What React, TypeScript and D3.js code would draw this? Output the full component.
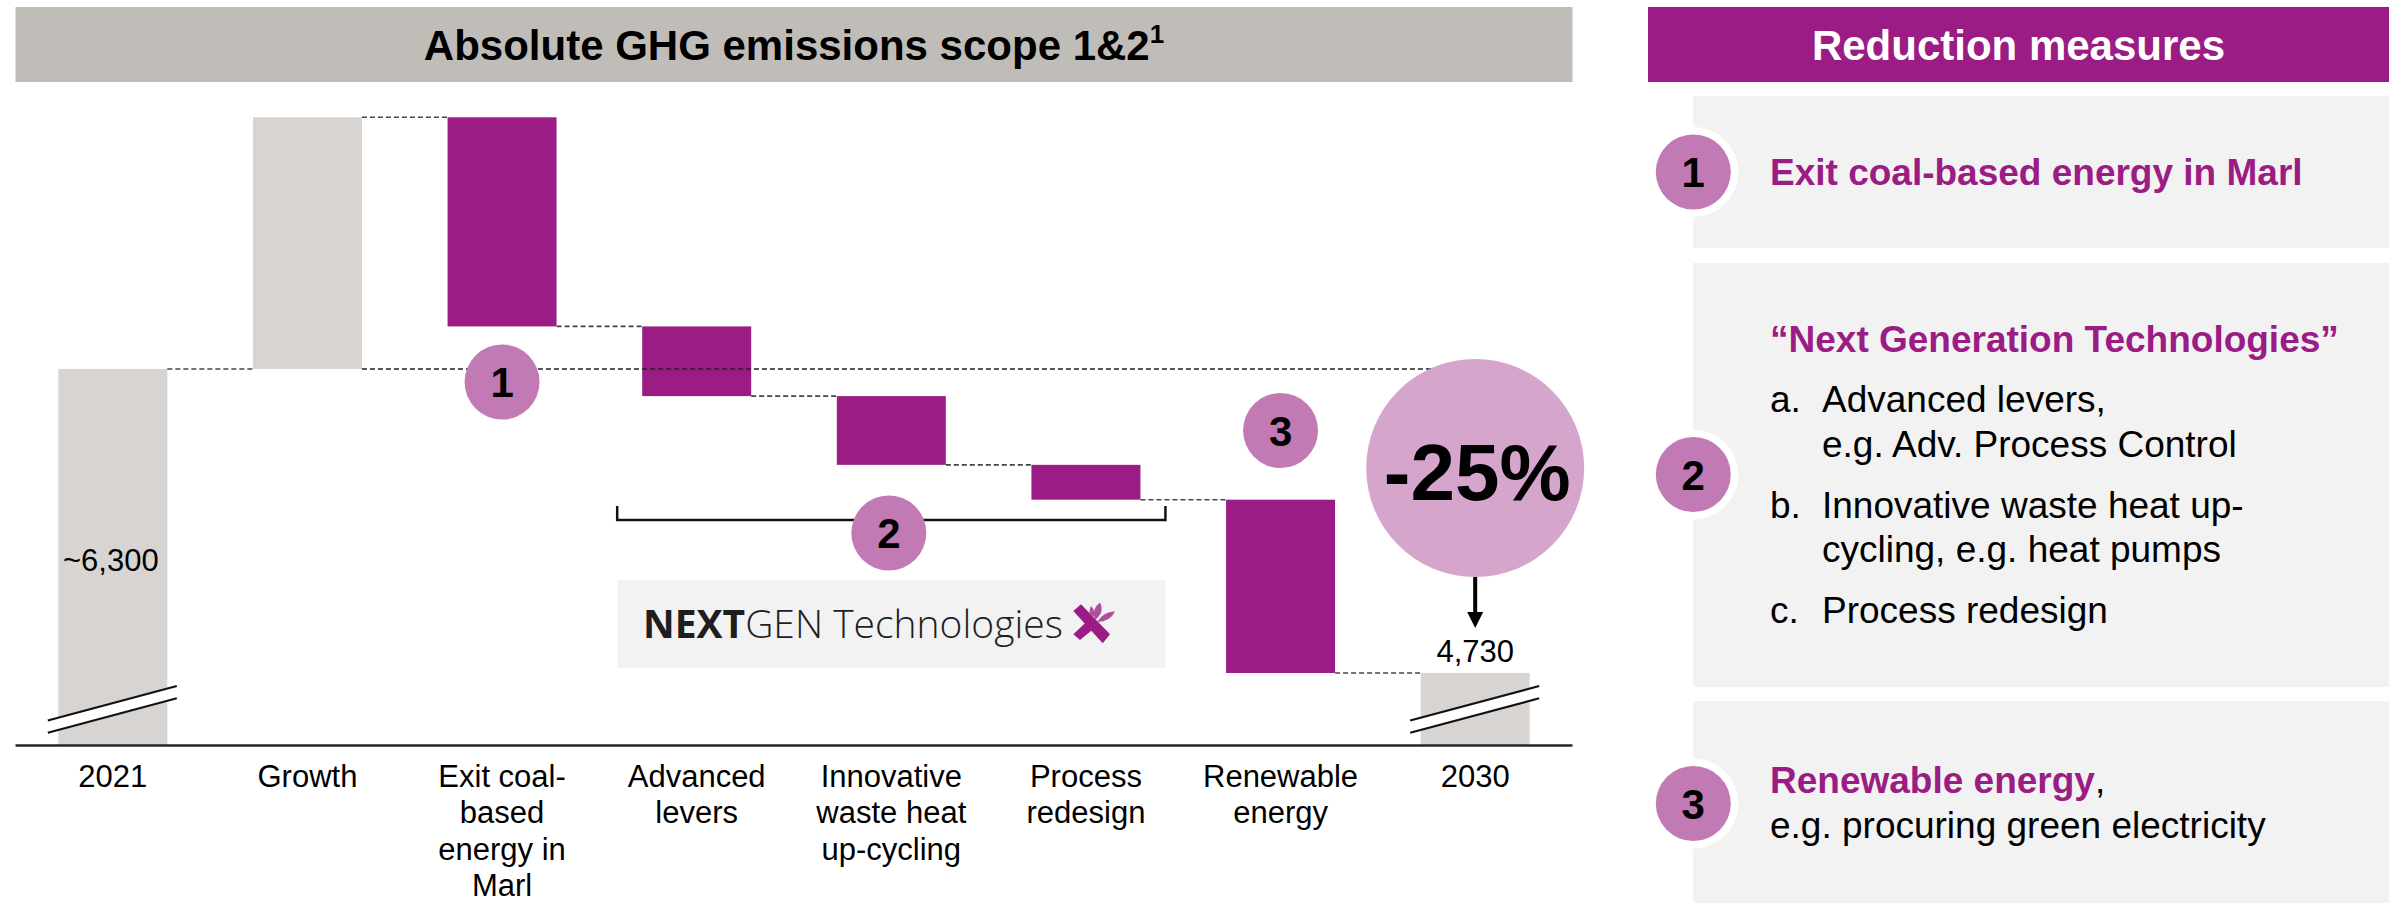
import React from "react";
import * as d3 from "d3";

// ---------- data ----------
const categories = ["2021", "Growth", "Exit coal", "Advanced levers", "Innovative", "Process redesign", "Renewable energy", "2030"];
const categoryLines = [
  ["2021"],
  ["Growth"],
  ["Exit coal-", "based", "energy in", "Marl"],
  ["Advanced", "levers"],
  ["Innovative", "waste heat", "up-cycling"],
  ["Process", "redesign"],
  ["Renewable", "energy"],
  ["2030"],
];
const values = [6300, 1300, -1080, -360, -355, -180, -895, 4730];
const kinds = ["total", "increase", "decrease", "decrease", "decrease", "decrease", "decrease", "total"];
const totalLabels = ["~6,300", "", "", "", "", "", "", "4,730"];
const yBreakBase = 4358; // axis is broken: baseline value shown at the axis
const reductionLabel = "-25%";
const annotationNumbers = [
  { n: "1", cat: "Exit coal" },
  { n: "2", cat: "Innovative" },
  { n: "3", cat: "Renewable energy" },
];

const FONT = "'Liberation Sans', Arial, Helvetica, sans-serif";
const PURPLE = "#9b1c84";
const LEAF = "#b04c9c";
const GRAY_BAR = "#d8d4d1";
const CIRCLE = "#c27ab5";
const BIG_CIRCLE = "#d5a5cc";
const BOX = "#f2f2f2";

export default function App() {
  const x = d3.scaleBand<string>().domain(categories).range([15.5, 1572.5]).paddingInner(0.44).paddingOuter(0.22);
  const y = d3.scaleLinear().domain([yBreakBase, 6300]).range([745, 369]);

  // waterfall computation
  let running = 0;
  const bars = categories.map((c, i) => {
    const v = values[i];
    let start: number, end: number;
    if (kinds[i] === "total") {
      start = yBreakBase;
      end = v;
      running = v;
    } else {
      start = running;
      end = running + v;
      running = end;
    }
    return { c, i, start, end, kind: kinds[i] };
  });

  const bw = x.bandwidth();
  const cx = (c: string) => (x(c) as number) + bw / 2;

  // connectors
  const connectors = bars.slice(0, -1).map((b, i) => {
    const next = bars[i + 1];
    return { x1: (x(b.c) as number) + bw, x2: x(next.c) as number, y: y(b.end) };
  });

  const bigCx = cx("2030");
  const bigCy = 468;
  const bigR = 109;

  const breakMark = (c: string, key: string) => {
    const m = cx(c);
    const xl = m - 65, xr = m + 64;
    const up = [720.5, 686];
    const lo = [732.7, 698.3];
    return (
      <g key={key}>
        <polygon points={`${xl},${up[0]} ${xr},${up[1]} ${xr},${lo[1]} ${xl},${lo[0]}`} fill="#fff" />
        <line x1={xl} y1={up[0]} x2={xr} y2={up[1]} stroke="#111" strokeWidth={2.2} />
        <line x1={xl} y1={lo[0]} x2={xr} y2={lo[1]} stroke="#111" strokeWidth={2.2} />
      </g>
    );
  };

  const numCircle = (n: string, px: number, py: number, key: string, ring = false) => (
    <g key={key}>
      {ring && <circle cx={px} cy={py} r={45} fill="#fff" />}
      <circle cx={px} cy={py} r={37.5} fill={CIRCLE} />
      <text x={px} y={py + 15} textAnchor="middle" fontFamily={FONT} fontWeight="bold" fontSize={42} fill="#000">{n}</text>
    </g>
  );

  const annY: Record<string, number> = { "1": 382, "2": 533, "3": 430.5 };

  const advLeft = x("Advanced levers") as number;
  const procRight = (x("Process redesign") as number) + bw;

  return (
    <svg width={2403} height={903} style={{ position: "absolute", left: 0, top: 0, display: "block" }} fontFamily={FONT}>
      <rect width={2403} height={903} fill="#fff" />
      {/* title band */}
      <rect x={15.5} y={7} width={1557} height={75} fill="#c0bdb8" />
      <text x={794} y={60} textAnchor="middle" fontWeight="bold" fontSize={42} fill="#000">
        Absolute GHG emissions scope 1&amp;2<tspan fontSize={26} dy={-17}>1</tspan>
      </text>

      {/* bars */}
      {bars.map((b) => (
        <rect
          key={b.c}
          x={x(b.c)}
          width={bw}
          y={y(Math.max(b.start, b.end))}
          height={Math.abs(y(b.start) - y(b.end))}
          fill={b.kind === "total" || b.kind === "increase" ? GRAY_BAR : PURPLE}
        />
      ))}

      {/* connectors */}
      {connectors.map((c, i) => (
        <line key={i} x1={c.x1} x2={c.x2} y1={c.y} y2={c.y} stroke="#444" strokeWidth={1.6} strokeDasharray="5 3" />
      ))}
      {/* long reference line at 2021 level */}
      <line x1={(x("Growth") as number) + bw} x2={bigCx} y1={y(values[0])} y2={y(values[0])} stroke="#222" strokeWidth={1.6} strokeDasharray="5 3" />

      {/* axis breaks */}
      {breakMark("2021", "b1")}
      {breakMark("2030", "b2")}

      {/* axis */}
      <line x1={15.5} x2={1572.5} y1={745.5} y2={745.5} stroke="#262626" strokeWidth={2.5} />

      {/* category labels */}
      {categories.map((c, i) => (
        <text key={c} x={cx(c)} y={787} textAnchor="middle" fontSize={31} fill="#000">
          {categoryLines[i].map((l, j) => (
            <tspan key={j} x={cx(c)} dy={j === 0 ? 0 : 36.3}>{l}</tspan>
          ))}
        </text>
      ))}

      {/* total labels */}
      <text x={cx("2021") - 2} y={571} textAnchor="middle" fontSize={31} fill="#000">{totalLabels[0]}</text>
      <text x={cx("2030")} y={662} textAnchor="middle" fontSize={31} fill="#000">{totalLabels[7]}</text>

      {/* bracket for group 2 */}
      <path d={`M${advLeft - 25},${506} V${520} H${procRight + 25} V${506}`} fill="none" stroke="#111" strokeWidth={2.5} />

      {/* annotation circles */}
      {annotationNumbers.map((a) => numCircle(a.n, cx(a.cat) - (a.n === "2" ? 2.5 : 0), annY[a.n], "a" + a.n))}

      {/* logo box */}
      <rect x={advLeft - 25} y={580} width={procRight - advLeft + 50} height={88} fill={BOX} />
      <text x={643} y={638} fontFamily="'Open Sans', 'Noto Sans', sans-serif" fontSize={39} fill="#1e1e1e">
        <tspan fontWeight="bold">NEXT</tspan>
        <tspan fontWeight={300}>GEN Technologies</tspan>
      </text>
      <g transform="translate(1060,595)">
        <polygon points="13.3,16 21,9.3 50,39.3 42.7,48.3" fill={PURPLE} />
        <polygon points="13.3,39.3 29,24.5 36.5,31.5 20,45" fill={PURPLE} />
        <path d="M35,25 Q31,14 40,7.5 Q45,17 35,25 Z" fill={LEAF} />
        <path d="M37,27 Q44,16 55,16.5 Q50,27 37,27 Z" fill={LEAF} />
        <path d="M33,23 Q27,18 31,11 Q36,16 33,23 Z" fill={LEAF} />
      </g>

      {/* -25% circle and arrow */}
      <circle cx={bigCx} cy={bigCy} r={bigR} fill={BIG_CIRCLE} />
      <text x={bigCx + 2} y={500} textAnchor="middle" fontWeight="bold" fontSize={80} fill="#000">{reductionLabel}</text>
      <line x1={bigCx} x2={bigCx} y1={bigCy + bigR} y2={614} stroke="#000" strokeWidth={4} />
      <polygon points={`${bigCx - 8},${612} ${bigCx + 8},${612} ${bigCx},${628}`} fill="#000" />

      {/* ---------- right panel ---------- */}
      <rect x={1648} y={7} width={741} height={75} fill={PURPLE} />
      <text x={2018.5} y={60} textAnchor="middle" fontWeight="bold" fontSize={42} fill="#fff">Reduction measures</text>

      <rect x={1693} y={96} width={696} height={152} fill={BOX} />
      <rect x={1693} y={263} width={696} height={424} fill={BOX} />
      <rect x={1693} y={701} width={696} height={202} fill={BOX} />

      {numCircle("1", 1693.3, 172, "r1", true)}
      {numCircle("2", 1693.3, 474.5, "r2", true)}
      {numCircle("3", 1693.3, 803.5, "r3", true)}

      <text x={1770} y={185} fontWeight="bold" fontSize={37} fill={PURPLE}>Exit coal-based energy in Marl</text>

      <text x={1770} y={352} fontWeight="bold" fontSize={37} fill={PURPLE}>“Next Generation Technologies”</text>
      <text fontSize={37} fill="#000">
        <tspan x={1770} y={412}>a.</tspan>
        <tspan x={1822} y={412}>Advanced levers,</tspan>
        <tspan x={1822} y={457}>e.g. Adv. Process Control</tspan>
        <tspan x={1770} y={518}>b.</tspan>
        <tspan x={1822} y={518}>Innovative waste heat up-</tspan>
        <tspan x={1822} y={562}>cycling, e.g. heat pumps</tspan>
        <tspan x={1770} y={623}>c.</tspan>
        <tspan x={1822} y={623}>Process redesign</tspan>
      </text>

      <text x={1770} y={793} fontSize={37} fill="#000">
        <tspan fontWeight="bold" fill={PURPLE}>Renewable energy</tspan>
        <tspan>,</tspan>
      </text>
      <text x={1770} y={838} fontSize={37} fill="#000">e.g. procuring green electricity</text>
    </svg>
  );
}
